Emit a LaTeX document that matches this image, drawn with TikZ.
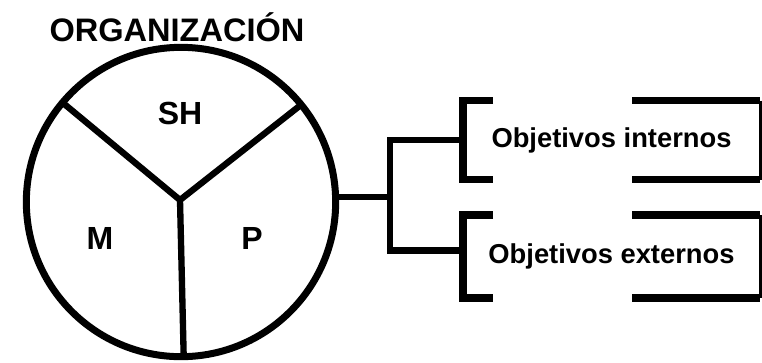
\documentclass[tikz,border=0pt]{standalone}
\usepackage{fontspec}
\setmainfont{Liberation Sans}
\usepackage{tikz}
\usetikzlibrary{calc, positioning}

\begin{document}
\begin{tikzpicture}[
  x=0.75pt, y=-0.75pt,
  orgcirc/.style={circle, draw, line width=5.25pt, minimum size=232pt, inner sep=0pt, outer sep=0pt},
  spoke/.style={line width=4.75pt, line cap=round},
  seclbl/.style={font=\fontsize{24}{28}\selectfont\bfseries},
  objbox/.style={rectangle, minimum width=222.75pt, inner sep=0pt, outer sep=0pt,
               font=\fontsize{20.5}{24}\selectfont\bfseries},
  conn/.style={line width=5pt, line join=miter},
  brk/.style={line width=5.75pt, line join=miter},
  brkthin/.style={line width=2.25pt}
]
  \useasboundingbox (0,0) rectangle (762,362);

  \node[font=\fontsize{24.4}{28}\selectfont\bfseries] (title) at (177,27) {ORGANIZACIÓN};

  \node[orgcirc] (org) at (181,202) {};
  \coordinate (hub) at (180,200);
  \draw[spoke] (hub) -- (org.140);
  \draw[spoke] (hub) -- (org.39);
  \draw[spoke] (hub) -- (org.271);

  \node[seclbl] (sh) at (180,113) {SH};
  \node[seclbl] (m) at (100,238) {M};
  \node[seclbl] (p) at (252,238) {P};

  \node[objbox, minimum height=59.25pt] (int) at (611.5,140) {Objetivos internos};
  \node[objbox, minimum height=62.25pt] (ext) at (611.5,256.5) {Objetivos externos};

  % connector from the circle to both brackets
  \coordinate (fork) at (390,197);
  \draw[conn] (org.east |- fork) -- (fork);
  \draw[conn] (int.west) -| (fork) |- ($(ext.west)+(0,-6)$);

  % brackets
  \foreach \b in {int, ext} {
    \draw[brk] ($(\b.north west)+(30,0)$) -- (\b.north west) -- (\b.south west) -- ($(\b.south west)+(30,0)$);
    \draw[brk] ($(\b.north east)+(-128,0)$) -- (\b.north east);
    \draw[brk] ($(\b.south east)+(-128,0)$) -- (\b.south east);
    \draw[brkthin] (\b.north east) -- (\b.south east);
  }
\end{tikzpicture}
\end{document}
